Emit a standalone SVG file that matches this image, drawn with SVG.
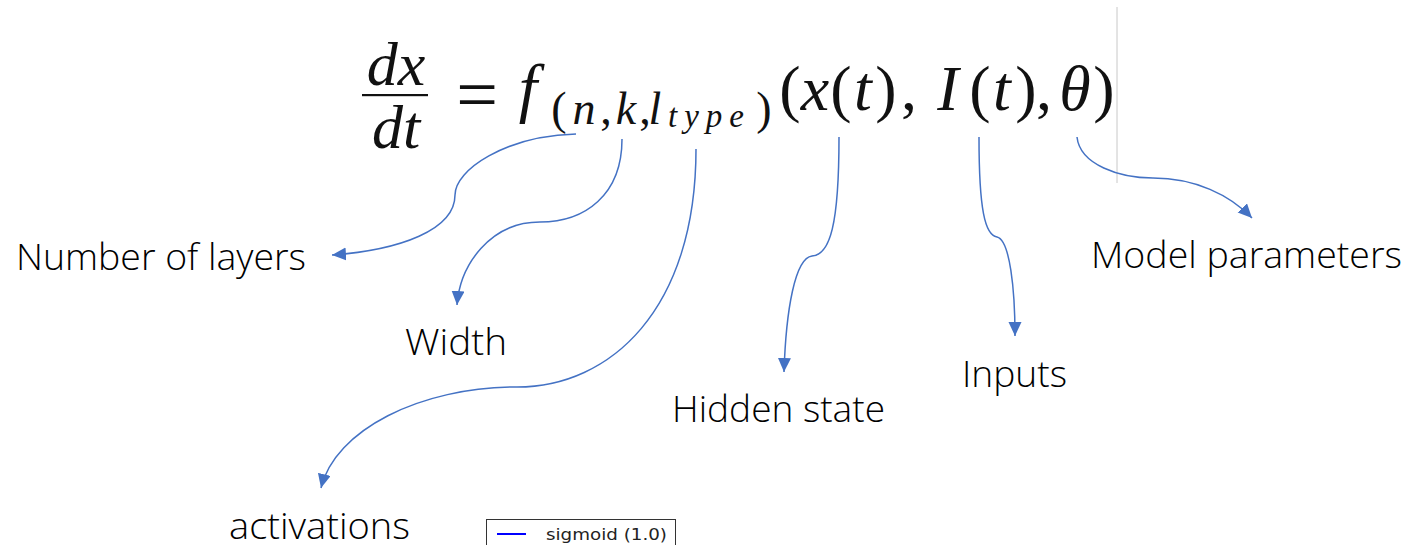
<svg xmlns="http://www.w3.org/2000/svg" width="1407" height="545" viewBox="0 0 1407 545">
<style>
.m{font-family:"Liberation Serif","Times New Roman",serif;fill:#111;}
.i{font-style:italic;}
.lbl{font-family:"Open Sans","Noto Sans",sans-serif;font-weight:300;font-size:36px;fill:#000;}
.c{fill:none;stroke:#4472C4;stroke-width:1.5;marker-end:url(#ah);}
</style>
<defs>
<marker id="ah" markerUnits="userSpaceOnUse" markerWidth="16" markerHeight="14" refX="14" refY="6.5" orient="auto">
<path d="M0,0 L14,6.5 L0,13 z" fill="#4472C4"/>
</marker>
</defs>
<rect width="1407" height="545" fill="#fff"/>
<g id="equation">
<text class="m i" x="396" y="85" font-size="62" text-anchor="middle">dx</text>
<rect x="362" y="94" width="66" height="2.2" fill="#111"/>
<text class="m i" x="396" y="148" font-size="62" text-anchor="middle">dt</text>
<text class="m" x="477" y="119" font-size="74" text-anchor="middle">=</text>
<text class="m i" x="528" y="110" font-size="66" text-anchor="middle">f</text>
<text class="m" x="559" y="124" font-size="46" text-anchor="middle">(</text>
<text class="m i" x="584" y="124" font-size="46" text-anchor="middle">n</text>
<text class="m" x="606" y="124" font-size="46" text-anchor="middle">,</text>
<text class="m i" x="626" y="124" font-size="46" text-anchor="middle">k</text>
<text class="m" x="645" y="124" font-size="46" text-anchor="middle">,</text>
<text class="m i" x="655" y="124" font-size="46" text-anchor="middle">l</text>
<text class="m i" x="668" y="127" font-size="33" textLength="76" lengthAdjust="spacing">type</text>
<text class="m" x="764" y="124" font-size="46" text-anchor="middle">)</text>
<text class="m" x="790" y="110" font-size="64" text-anchor="middle">(</text>
<text class="m i" x="815" y="110" font-size="64" text-anchor="middle">x</text>
<text class="m" x="841" y="110" font-size="64" text-anchor="middle">(</text>
<text class="m i" x="863" y="110" font-size="64" text-anchor="middle">t</text>
<text class="m" x="886" y="110" font-size="64" text-anchor="middle">)</text>
<text class="m" x="909" y="110" font-size="64" text-anchor="middle">,</text>
<text class="m i" x="948" y="110" font-size="64" text-anchor="middle">I</text>
<text class="m" x="980" y="110" font-size="64" text-anchor="middle">(</text>
<text class="m i" x="1002" y="110" font-size="64" text-anchor="middle">t</text>
<text class="m" x="1026" y="110" font-size="64" text-anchor="middle">)</text>
<text class="m" x="1044" y="110" font-size="64" text-anchor="middle">,</text>
<text class="m i" x="1075" y="110" font-size="64" text-anchor="middle">θ</text>
<text class="m" x="1104" y="110" font-size="64" text-anchor="middle">)</text>
</g>
<line x1="1117" y1="7" x2="1117" y2="183" stroke="#c8c8c8" stroke-width="1"/>
<g id="connectors">
<path class="c" d="M576,134 C505,136 455,170 455,195 C455,230 400,250 332,255"/>
<path class="c" d="M622,139 C622,195 585,222 540,222 C490,222 460,265 457,305"/>
<path class="c" d="M696,149 C696,310 610,387 517,387 C420,387 335,430 321,488"/>
<path class="c" d="M839,137 C839,225 830,255 812,256 C795,258 786,310 784,372"/>
<path class="c" d="M979,137 C979,210 985,235 997,237 C1010,240 1015,290 1015,336"/>
<path class="c" d="M1077,137 C1080,165 1120,178 1153,178 C1195,178 1230,195 1252,218"/>
</g>
<g id="n-layers"><text class="lbl" x="16" y="270" textLength="290" lengthAdjust="spacingAndGlyphs">Number of layers</text></g>
<g id="n-width"><text class="lbl" x="405" y="355" textLength="102" lengthAdjust="spacingAndGlyphs">Width</text></g>
<g id="n-activations"><text class="lbl" x="229" y="539" textLength="181" lengthAdjust="spacingAndGlyphs">activations</text></g>
<g id="n-hidden"><text class="lbl" x="672" y="422" textLength="213" lengthAdjust="spacingAndGlyphs">Hidden state</text></g>
<g id="n-inputs"><text class="lbl" x="962" y="387" textLength="105" lengthAdjust="spacingAndGlyphs">Inputs</text></g>
<g id="n-params"><text class="lbl" x="1091" y="268" textLength="311" lengthAdjust="spacingAndGlyphs">Model parameters</text></g>
<g id="legend">
<rect x="486.5" y="519.5" width="189" height="40" fill="#fff" stroke="#333" stroke-width="1"/>
<line x1="497" y1="534" x2="526" y2="534" stroke="#0000ff" stroke-width="2"/>
<text x="546" y="540" font-family="DejaVu Sans,sans-serif" font-size="16.5" fill="#222" textLength="121" lengthAdjust="spacingAndGlyphs">sigmoid (1.0)</text>
</g>
</svg>
